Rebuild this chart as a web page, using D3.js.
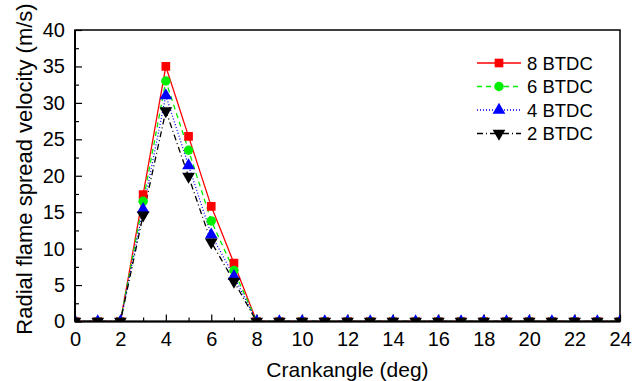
<!DOCTYPE html>
<html>
<head>
<meta charset="utf-8">
<script src="https://cdn.jsdelivr.net/npm/d3@7"></script>
<style>
  body { margin: 0; background: #fff; }
  text { font-family: "Liberation Sans", Arial, sans-serif; }
</style>
</head>
<body>
<svg class="chart" width="632" height="381"></svg>
<script>
// data
const crankAngle = d3.range(0, 25);
const btdc8 = [0, 0, 0, 17.4, 35, 25.4, 15.8, 8.0, 0, 0, 0, 0, 0, 0, 0, 0, 0, 0, 0, 0, 0, 0, 0, 0, 0];
const btdc6 = [0, 0, 0, 16.5, 33, 23.5, 13.8, 7.0, 0, 0, 0, 0, 0, 0, 0, 0, 0, 0, 0, 0, 0, 0, 0, 0, 0];
const btdc4 = [0, 0, 0, 15.4, 31, 21.4, 11.9, 6.2, 0, 0, 0, 0, 0, 0, 0, 0, 0, 0, 0, 0, 0, 0, 0, 0, 0];
const btdc2 = [0, 0, 0, 14.6, 28.9, 19.9, 10.9, 5.5, 0, 0, 0, 0, 0, 0, 0, 0, 0, 0, 0, 0, 0, 0, 0, 0, 0];
const seriesNames = ["8 BTDC", "6 BTDC", "4 BTDC", "2 BTDC"];
const xTicks = d3.range(0, 25, 2);
const yTicks = d3.range(0, 41, 5);

const series = [
  { name: seriesNames[0], values: btdc8, color: "#ff0000", dash: null, symbol: d3.symbolSquare, rot: 0 },
  { name: seriesNames[1], values: btdc6, color: "#00ee00", dash: "5,4", symbol: d3.symbolCircle, rot: 0 },
  { name: seriesNames[2], values: btdc4, color: "#0000ff", dash: "1,2", symbol: d3.symbolTriangle, rot: 0 },
  { name: seriesNames[3], values: btdc2, color: "#000000", dash: "6,3,1,3", symbol: d3.symbolTriangle, rot: 180 }
];

const margin = { left: 75, right: 12, top: 30, bottom: 60 };
const width = 632, height = 381;
const svg = d3.select('svg.chart');

const x = d3.scaleLinear().domain([0, 24]).range([margin.left, width - margin.right]);
const y = d3.scaleLinear().domain([0, 40]).range([height - margin.bottom + 0.5, margin.top]);

// clip markers to the plot area
svg.append('clipPath').attr('id', 'plotClip')
  .append('rect')
  .attr('x', x(0)).attr('y', y(40))
  .attr('width', x(24) - x(0)).attr('height', y(0) - y(40));

// frame
svg.append('rect')
  .attr('x', x(0)).attr('y', y(40))
  .attr('width', x(24) - x(0)).attr('height', y(0) - y(40))
  .style('fill', 'none').style('stroke', '#000').style('stroke-width', 1.5);

// x axis
const xAxis = svg.append('g').attr('transform', 'translate(0,' + y(0) + ')');
xAxis.call(d3.axisBottom(x).tickValues(xTicks).tickSize(-7).tickPadding(10).tickFormat(d3.format('d')));
xAxis.append('g').call(d3.axisBottom(x).tickValues(d3.range(1, 24, 2)).tickSize(-4).tickFormat(''));
xAxis.selectAll('.domain').remove();
xAxis.selectAll('text').style('font-size', '20px').style('fill', '#000');
xAxis.selectAll('line').style('stroke', '#000').style('stroke-width', 1.2);

// y axis
const yAxis = svg.append('g').attr('transform', 'translate(' + x(0) + ',0)');
yAxis.call(d3.axisLeft(y).tickValues(yTicks).tickSize(-7).tickPadding(10));
yAxis.append('g').call(d3.axisLeft(y).tickValues(d3.range(2.5, 40, 5)).tickSize(-4).tickFormat(''));
yAxis.selectAll('.domain').remove();
yAxis.selectAll('text').style('font-size', '20px').style('fill', '#000');
yAxis.selectAll('line').style('stroke', '#000').style('stroke-width', 1.2);

// titles
svg.append('text')
  .attr('x', (x(0) + x(24)) / 2).attr('y', 377)
  .attr('text-anchor', 'middle')
  .style('font-size', '21px')
  .text('Crankangle (deg)');
svg.append('text')
  .attr('transform', 'translate(32,169) rotate(-90)')
  .attr('text-anchor', 'middle')
  .style('font-size', '22px')
  .text('Radial flame spread velocity (m/s)');

// lines and markers
const line = d3.line().x((d, i) => x(crankAngle[i])).y(d => y(d));
const plot = svg.append('g').attr('clip-path', 'url(#plotClip)');

series.forEach(s => {
  plot.append('path')
    .attr('d', line(s.values))
    .style('fill', 'none')
    .style('stroke', s.color)
    .style('stroke-width', 1.3)
    .style('stroke-dasharray', s.dash);
});

series.forEach(s => {
  const sym = d3.symbol().type(s.symbol).size(s.symbol === d3.symbolSquare ? 75 : 70);
  plot.selectAll(null)
    .data(s.values)
    .enter()
    .append('path')
    .attr('d', sym)
    .attr('transform', (d, i) => 'translate(' + x(crankAngle[i]) + ',' + y(d) + ') rotate(' + s.rot + ')')
    .style('fill', s.color);
});

// axis lines on top
svg.append('line')
  .attr('x1', x(0)).attr('x2', x(24)).attr('y1', y(0)).attr('y2', y(0))
  .style('stroke', '#000').style('stroke-width', 2);
svg.append('line')
  .attr('x1', x(0)).attr('x2', x(0)).attr('y1', y(0)).attr('y2', y(40))
  .style('stroke', '#000').style('stroke-width', 2);

// legend
const legend = svg.append('g').attr('transform', 'translate(477,63)');
series.forEach((s, i) => {
  const g = legend.append('g').attr('transform', 'translate(0,' + (i * 23.5) + ')');
  g.append('line')
    .attr('x1', 0).attr('x2', 44).attr('y1', 0).attr('y2', 0)
    .style('stroke', s.color)
    .style('stroke-width', 1.3)
    .style('stroke-dasharray', s.dash);
  g.append('path')
    .attr('d', d3.symbol().type(s.symbol).size(s.symbol === d3.symbolSquare ? 75 : 70))
    .attr('transform', 'translate(22,0) rotate(' + s.rot + ')')
    .style('fill', s.color);
  g.append('text')
    .attr('x', 50).attr('y', 6.5)
    .style('font-size', '18.5px')
    .text(s.name);
});
</script>
</body>
</html>
